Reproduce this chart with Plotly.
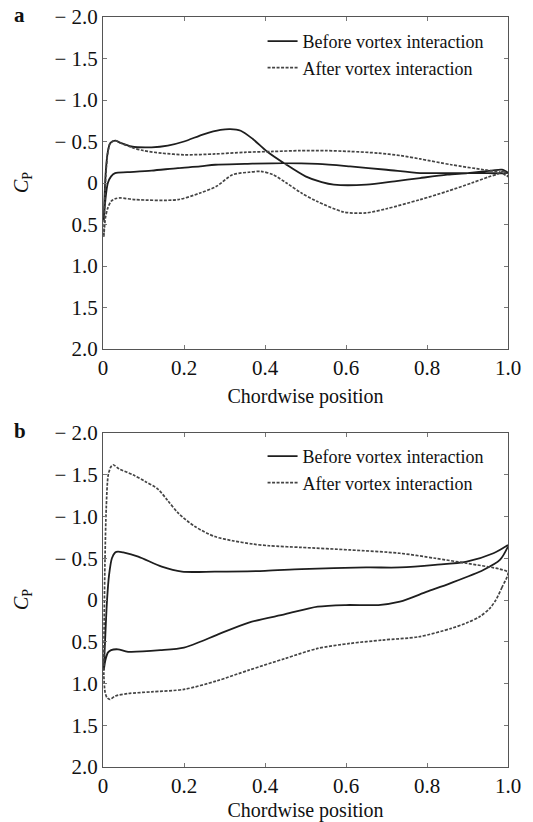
import plotly.graph_objects as go

# ---------------- Panel a ----------------
a_before_upper_x = [0.002, 0.004, 0.007, 0.012, 0.018, 0.03, 0.045, 0.07, 0.12, 0.16, 0.2, 0.25, 0.29, 0.314, 0.34, 0.37, 0.405, 0.453, 0.5, 0.54, 0.57, 0.65, 0.72, 0.783, 0.85, 0.9, 0.96, 0.985, 1.0]
a_before_upper_y = [0.45, 0.15, -0.15, -0.38, -0.48, -0.51, -0.48, -0.44, -0.43, -0.45, -0.5, -0.59, -0.64, -0.65, -0.63, -0.53, -0.38, -0.22, -0.08, -0.01, 0.02, 0.02, -0.02, -0.06, -0.1, -0.12, -0.15, -0.16, -0.12]
a_before_lower_x = [0.002, 0.006, 0.012, 0.02, 0.03, 0.06, 0.12, 0.185, 0.24, 0.277, 0.35, 0.445, 0.53, 0.61, 0.7, 0.783, 0.85, 0.9, 0.95, 1.0]
a_before_lower_y = [0.45, 0.2, 0.0, -0.08, -0.12, -0.13, -0.15, -0.18, -0.2, -0.22, -0.23, -0.24, -0.23, -0.2, -0.16, -0.12, -0.12, -0.12, -0.12, -0.12]
a_after_upper_x = [0.002, 0.004, 0.007, 0.012, 0.018, 0.03, 0.045, 0.07, 0.1, 0.145, 0.2, 0.277, 0.35, 0.42, 0.486, 0.55, 0.61, 0.68, 0.735, 0.783, 0.86, 0.94, 0.98, 1.0]
a_after_upper_y = [0.65, 0.25, -0.1, -0.37, -0.48, -0.51, -0.48, -0.43, -0.39, -0.36, -0.34, -0.35, -0.37, -0.38, -0.39, -0.39, -0.38, -0.36, -0.33, -0.29, -0.22, -0.16, -0.13, -0.08]
a_after_lower_x = [0.002, 0.006, 0.012, 0.02, 0.03, 0.042, 0.08, 0.185, 0.24, 0.28, 0.32, 0.36, 0.39, 0.42, 0.453, 0.49, 0.528, 0.595, 0.65, 0.7, 0.783, 0.85, 0.91, 0.95, 0.975, 0.99, 1.0]
a_after_lower_y = [0.65, 0.42, 0.3, 0.22, 0.19, 0.18, 0.2, 0.2, 0.12, 0.04, -0.1, -0.13, -0.14, -0.1, 0.0, 0.12, 0.22, 0.35, 0.36, 0.31, 0.2, 0.1, 0.0, -0.07, -0.11, -0.14, -0.08]

# ---------------- Panel b ----------------
b_before_upper_x = [0.002, 0.005, 0.01, 0.015, 0.022, 0.03, 0.037, 0.05, 0.087, 0.145, 0.195, 0.276, 0.4, 0.49, 0.65, 0.733, 0.82, 0.898, 0.964, 1.0]
b_before_upper_y = [0.84, 0.5, 0.0, -0.3, -0.5, -0.57, -0.58, -0.57, -0.52, -0.4, -0.34, -0.34, -0.35, -0.37, -0.39, -0.39, -0.42, -0.46, -0.56, -0.66]
b_before_lower_x = [0.002, 0.006, 0.012, 0.02, 0.037, 0.062, 0.145, 0.2, 0.24, 0.28, 0.36, 0.45, 0.53, 0.6, 0.68, 0.733, 0.8, 0.857, 0.939, 0.98, 1.0]
b_before_lower_y = [0.84, 0.72, 0.63, 0.6, 0.59, 0.62, 0.6, 0.57, 0.5, 0.42, 0.27, 0.17, 0.08, 0.06, 0.06, 0.02, -0.1, -0.2, -0.36, -0.48, -0.64]
b_after_upper_x = [0.002, 0.003, 0.005, 0.008, 0.013, 0.02, 0.025, 0.04, 0.074, 0.104, 0.135, 0.16, 0.186, 0.227, 0.276, 0.32, 0.37, 0.41, 0.49, 0.61, 0.733, 0.82, 0.898, 0.98, 1.0]
b_after_upper_y = [0.9, 0.2, -0.5, -1.1, -1.5, -1.6, -1.62, -1.57, -1.5, -1.42, -1.33, -1.19, -1.04, -0.88, -0.76, -0.71, -0.67, -0.65, -0.63, -0.6, -0.56, -0.5, -0.44, -0.37, -0.33]
b_after_lower_x = [0.002, 0.005, 0.01, 0.017, 0.03, 0.062, 0.12, 0.2, 0.28, 0.36, 0.45, 0.53, 0.61, 0.69, 0.78, 0.86, 0.9, 0.93, 0.955, 0.97, 0.985, 1.0]
b_after_lower_y = [0.9, 1.1, 1.17, 1.19, 1.15, 1.12, 1.1, 1.07, 0.97, 0.84, 0.7, 0.58, 0.52, 0.48, 0.44, 0.34, 0.27, 0.2, 0.1, 0.0, -0.15, -0.33]

x_ticks = [0, 0.2, 0.4, 0.6, 0.8, 1.0]
x_tick_labels = ["0", "0.2", "0.4", "0.6", "0.8", "1.0"]
y_ticks = [-2.0, -1.5, -1.0, -0.5, 0, 0.5, 1.0, 1.5, 2.0]
y_tick_labels = ["\u2212 2.0", "\u2212 1.5", "\u2212 1.0", "\u2212 0.5", "0", "0.5", "1.0", "1.5", "2.0"]

series_names = ["Before vortex interaction", "After vortex interaction"]

FONT = "Liberation Serif, Times New Roman, serif"
solid_style = dict(color="#1e1e1e", width=1.8, shape="spline", smoothing=0.8)
dash_style = dict(color="#444444", width=1.7, dash="3px,1.5px", shape="spline", smoothing=0.8)


def loop(ux, uy, lx, ly):
    # go along the lower surface from trailing edge to leading edge, then the upper surface back
    return list(reversed(lx)) + list(ux), list(reversed(ly)) + list(uy)


fig = go.Figure()

panels = [
    ("x", "y", "legend", (a_before_upper_x, a_before_upper_y, a_before_lower_x, a_before_lower_y),
     (a_after_upper_x, a_after_upper_y, a_after_lower_x, a_after_lower_y)),
    ("x2", "y2", "legend2", (b_before_upper_x, b_before_upper_y, b_before_lower_x, b_before_lower_y),
     (b_after_upper_x, b_after_upper_y, b_after_lower_x, b_after_lower_y)),
]

for xa, ya, lg, before, after in panels:
    bx, by = loop(*before)
    ax_, ay_ = loop(*after)
    fig.add_trace(go.Scatter(x=bx, y=by, mode="lines", name=series_names[0], line=solid_style,
                             xaxis=xa, yaxis=ya, legend=lg))
    fig.add_trace(go.Scatter(x=ax_, y=ay_, mode="lines", name=series_names[1], line=dash_style,
                             xaxis=xa, yaxis=ya, legend=lg))

axis_common = dict(showline=True, linecolor="#555555", linewidth=1, mirror="ticks",
                   ticks="inside", ticklen=4, tickcolor="#777777", showgrid=False, zeroline=False,
                   automargin=False,
                   tickfont=dict(family=FONT, size=21, color="#111111"))

xaxis_common = dict(axis_common, range=[0, 1.0], tickvals=x_ticks, ticktext=x_tick_labels)
yaxis_common = dict(axis_common, range=[2.0, -2.0], tickvals=y_ticks, ticktext=y_tick_labels)
xtitle_font = dict(family=FONT, size=20, color="#111111")

legend_common = dict(font=dict(family=FONT, size=18, color="#111111"), bgcolor="rgba(0,0,0,0)",
                     xanchor="left", yanchor="top", borderwidth=0)

fig.update_layout(
    width=533, height=822,
    margin=dict(l=103, r=25, t=17, b=55, autoexpand=False),
    paper_bgcolor="white", plot_bgcolor="white",
    showlegend=True,
    xaxis=dict(xaxis_common, domain=[0, 1], anchor="y",
               title=dict(text="Chordwise position", font=xtitle_font, standoff=9)),
    yaxis=dict(yaxis_common, domain=[0.5573, 1.0], anchor="x"),
    xaxis2=dict(xaxis_common, domain=[0, 1], anchor="y2",
                title=dict(text="Chordwise position", font=xtitle_font, standoff=6)),
    yaxis2=dict(yaxis_common, domain=[0.0, 0.4453], anchor="x2"),
    legend=dict(legend_common, x=0.394, y=0.992),
    legend2=dict(legend_common, x=0.394, y=0.4387),
    annotations=[
        dict(text="<b>a</b>", xref="paper", yref="paper", x=-0.205, y=1.003, showarrow=False,
             font=dict(family=FONT, size=21, color="#111111"), xanchor="center", yanchor="middle"),
        dict(text="<b>b</b>", xref="paper", yref="paper", x=-0.205, y=0.4483, showarrow=False,
             font=dict(family=FONT, size=21, color="#111111"), xanchor="center", yanchor="middle"),
        dict(text="<i>C</i><sub>P</sub>", xref="paper", yref="paper", x=-0.2, y=(0.5573 + 1.0) / 2,
             showarrow=False, textangle=-90, font=dict(family=FONT, size=20, color="#111111"),
             xanchor="center", yanchor="middle"),
        dict(text="<i>C</i><sub>P</sub>", xref="paper", yref="paper", x=-0.2, y=0.4453 / 2,
             showarrow=False, textangle=-90, font=dict(family=FONT, size=20, color="#111111"),
             xanchor="center", yanchor="middle"),
    ],
)

fig.write_html("out.html")
